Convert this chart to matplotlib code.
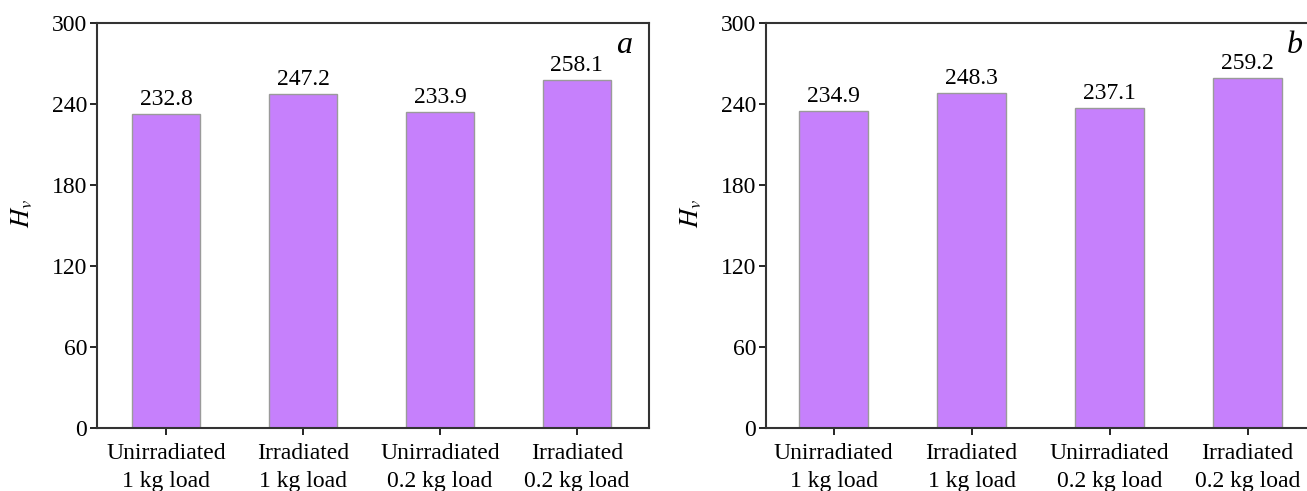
import matplotlib
matplotlib.use("Agg")
import matplotlib.pyplot as plt

plt.rcParams["font.family"] = ["Liberation Serif", "DejaVu Serif"]
plt.rcParams["mathtext.fontset"] = "stix"

categories = ["Unirradiated\n1 kg load", "Irradiated\n1 kg load",
              "Unirradiated\n0.2 kg load", "Irradiated\n0.2 kg load"]
hv_a = [232.8, 247.2, 233.9, 258.1]
hv_b = [234.9, 248.3, 237.1, 259.2]
yticks = [0, 60, 120, 180, 240, 300]

BAR = "#c680fc"
EDGE = "#9a9a9a"
FS = 17

fig = plt.figure(figsize=(13.07, 4.91), dpi=100)
ax_a = fig.add_axes([0.0742, 0.1283, 0.4223, 0.8248])
ax_b = fig.add_axes([0.5861, 0.1283, 0.4240, 0.8248])


def draw(ax, vals, letter, xlim):
    x = range(len(vals))
    ax.bar(x, vals, width=0.5, color=BAR, edgecolor=EDGE, linewidth=1.0, zorder=2)
    for xi, v in zip(x, vals):
        ax.text(xi, v + 3, f"{v:.1f}", ha="center", va="bottom", fontsize=FS)
    ax.set_xlim(*xlim)
    ax.set_ylim(0, 300)
    ax.set_yticks(yticks)
    ax.set_xticks(list(x))
    ax.set_xticklabels(categories, fontsize=FS, linespacing=1.4)
    ax.tick_params(axis="y", labelsize=FS, length=5, width=1.2, pad=2)
    ax.tick_params(axis="x", length=5, width=1.2, pad=6)
    for s in ax.spines.values():
        s.set_linewidth(1.5)
        s.set_color("#333333")
    ax.set_ylabel(r"$H_v$", fontsize=19, labelpad=12, y=0.53)
    ax.text(0.955, 0.945, letter, transform=ax.transAxes, fontsize=23,
            style="italic", ha="center", va="center")


draw(ax_a, hv_a, "a", (-0.504, 3.526))
draw(ax_b, hv_b, "b", (-0.49, 3.526))

fig.savefig("out.png", dpi=100)
